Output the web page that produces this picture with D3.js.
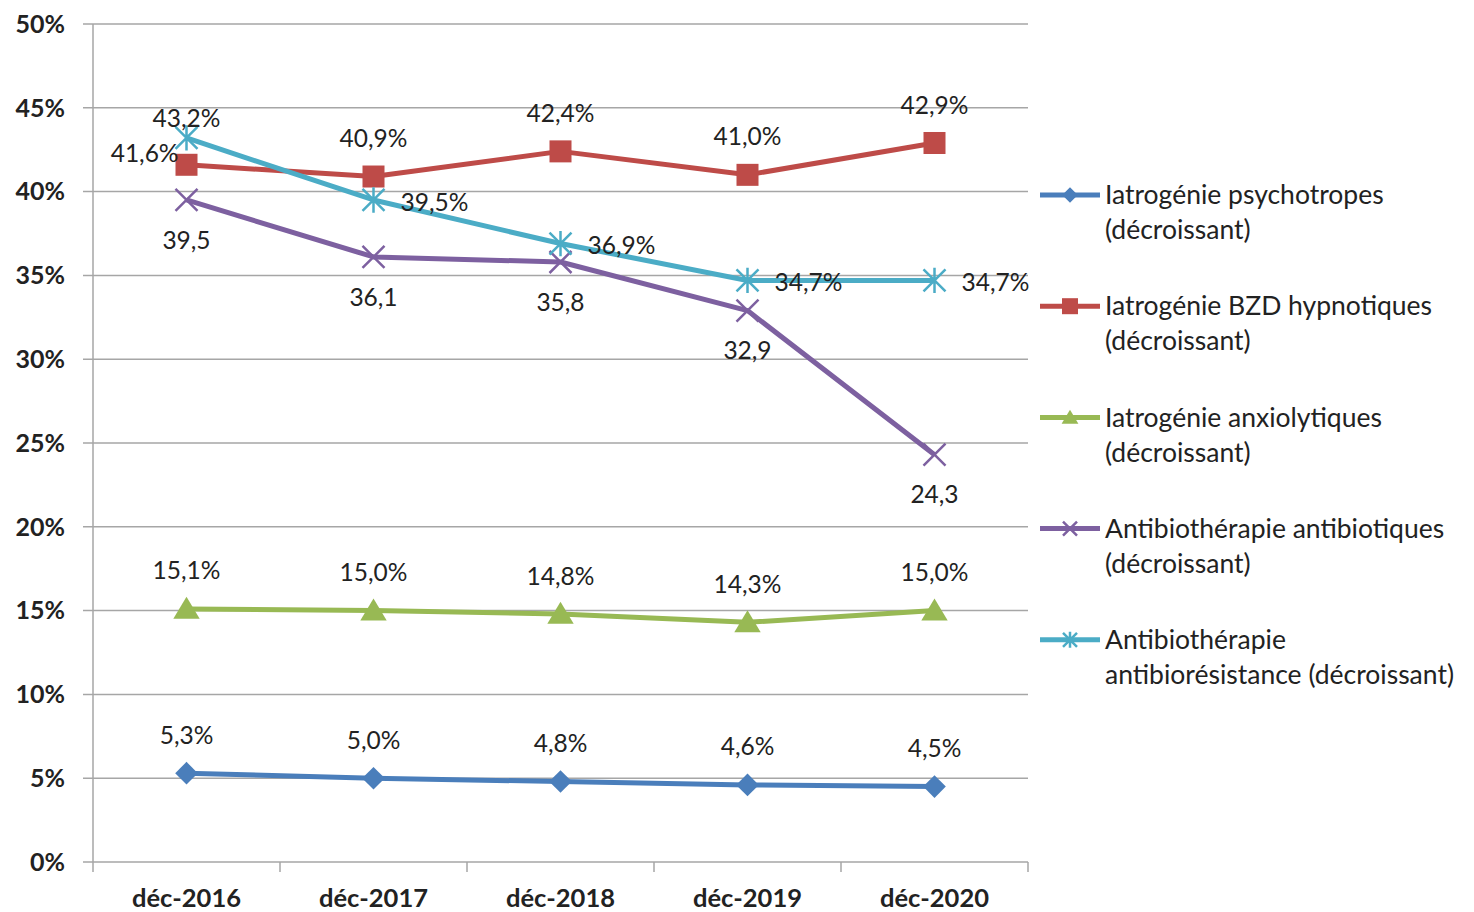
<!DOCTYPE html>
<html><head><meta charset="utf-8">
<script src="https://cdn.jsdelivr.net/npm/d3@7"></script>
<style>
html,body{margin:0;padding:0;background:#fff;}
svg{display:block;font-family:Lato,"Open Sans",sans-serif;}
</style></head>
<body>
<svg id="chart" width="1474" height="912"></svg>
<script>
const categories = ["déc-2016","déc-2017","déc-2018","déc-2019","déc-2020"];
const seriesNames = ["Iatrogénie psychotropes (décroissant)","Iatrogénie BZD hypnotiques (décroissant)","Iatrogénie anxiolytiques (décroissant)","Antibiothérapie antibiotiques (décroissant)","Antibiothérapie antibiorésistance (décroissant)"];
const legendLines = [["Iatrogénie psychotropes","(décroissant)"],["Iatrogénie BZD hypnotiques","(décroissant)"],["Iatrogénie anxiolytiques","(décroissant)"],["Antibiothérapie antibiotiques","(décroissant)"],["Antibiothérapie","antibiorésistance (décroissant)"]];
const psychotropes = [5.3,5.0,4.8,4.6,4.5];
const bzdHypnotiques = [41.6,40.9,42.4,41.0,42.9];
const anxiolytiques = [15.1,15.0,14.8,14.3,15.0];
const antibiotiques = [39.5,36.1,35.8,32.9,24.3];
const antibioresistance = [43.2,39.5,36.9,34.7,34.7];
const yTicks = [0,5,10,15,20,25,30,35,40,45,50];
const colors = ["#4a7ebb","#be4b48","#98b954","#7d60a0","#4bacc6"];
const markers = ["diamond","square","triangle","x","star"];
// label placement per point: "above","below","left","right","aboveNear"
const labelPos = [
  ["above","above","above","above","above"],
  ["left","above","above","above","above"],
  ["above","above","above","above","above"],
  ["below","below","below","below","below"],
  ["aboveNear","right","right","right","right"]
];
const withPercent = [true,true,true,false,true];
const allValues = [psychotropes,bzdHypnotiques,anxiolytiques,antibiotiques,antibioresistance];

const svg = d3.select("#chart");
const m = {left:93, right:1028, top:24, bottom:862};
const x = d3.scaleBand().domain(categories).range([m.left,m.right]);
const y = d3.scaleLinear().domain([0,50]).range([m.bottom,m.top]);

svg.append("g").selectAll("line").data(yTicks).join("line")
  .attr("x1",m.left-10).attr("x2",m.right)
  .attr("y1",d=>y(d)).attr("y2",d=>y(d))
  .attr("stroke","#a6a6a6").attr("stroke-width",1.5);
svg.append("line").attr("x1",m.left).attr("x2",m.left).attr("y1",m.top).attr("y2",m.bottom)
  .attr("stroke","#a6a6a6").attr("stroke-width",1.5);
const xt = categories.map((c)=>x(c)).concat([m.right]);
svg.append("g").selectAll("line").data(xt).join("line")
  .attr("x1",d=>d).attr("x2",d=>d).attr("y1",m.bottom).attr("y2",m.bottom+10)
  .attr("stroke","#a6a6a6").attr("stroke-width",1.5);
svg.append("g").selectAll("text").data(yTicks).join("text")
  .attr("x",65).attr("y",d=>y(d)).attr("dy","0.35em").attr("text-anchor","end")
  .attr("font-size",25).attr("font-weight","bold").attr("fill","#222")
  .text(d=>d+"%");
svg.append("g").selectAll("text").data(categories).join("text")
  .attr("x",d=>x(d)+x.bandwidth()/2).attr("y",898).attr("dy","0.35em").attr("text-anchor","middle")
  .attr("font-size",25.5).attr("font-weight","bold").attr("fill","#222")
  .text(d=>d);

const cx = c => x(c)+x.bandwidth()/2;

function drawMarker(g, type, color, s){
  if(type==="diamond"){
    g.append("path").attr("d",d3.symbol(d3.symbolSquare, s*s)()).attr("transform","rotate(45)").attr("fill",color);
  } else if(type==="square"){
    g.append("rect").attr("x",-s/2).attr("y",-s/2).attr("width",s).attr("height",s).attr("fill",color);
  } else if(type==="triangle"){
    const h=s;
    g.append("path").attr("d",`M0,${-h*0.55}L${s*0.6},${h*0.45}L${-s*0.6},${h*0.45}Z`).attr("fill",color);
  } else if(type==="x"){
    const r=s/2;
    g.append("path").attr("d",`M${-r},${-r}L${r},${r}M${-r},${r}L${r},${-r}`).attr("stroke",color).attr("stroke-width",2.5).attr("fill","none");
  } else if(type==="star"){
    const r=s/2;
    g.append("path").attr("d",`M${-r},${-r}L${r},${r}M${-r},${r}L${r},${-r}M0,${-r*1.15}L0,${r*1.15}`).attr("stroke",color).attr("stroke-width",2.5).attr("fill","none");
  }
}

const line = d3.line().x((d,i)=>cx(categories[i])).y(d=>y(d));
const fmt = v => v.toFixed(1).replace(".",",");

allValues.forEach((vals,si)=>{
  const g = svg.append("g");
  g.append("path").datum(vals).attr("d",line).attr("fill","none")
    .attr("stroke",colors[si]).attr("stroke-width",5).attr("stroke-linejoin","round");
  vals.forEach((v,i)=>{
    const mg = g.append("g").attr("transform",`translate(${cx(categories[i])},${y(v)})`);
    drawMarker(mg, markers[si], colors[si], markers[si]==="diamond"?16:22);
  });
});
allValues.forEach((vals,si)=>{
  vals.forEach((v,i)=>{
    const px=cx(categories[i]), py=y(v);
    const pos=labelPos[si][i];
    let tx=px, ty=py, anchor="middle";
    if(pos==="above"){ty=py-38;}
    else if(pos==="aboveNear"){ty=py-20;}
    else if(pos==="below"){ty=py+40;}
    else if(pos==="left"){tx=px-8;ty=py-11;anchor="end";}
    else if(pos==="right"){tx=px+27;ty=py+2;anchor="start";}
    svg.append("text").attr("x",tx).attr("y",ty).attr("dy","0.35em").attr("text-anchor",anchor)
      .attr("font-size",24.5).attr("fill","#222")
      .text(fmt(v)+(withPercent[si]?"%":""));
  });
});

const ly0=195, lstep=111.2;
legendLines.forEach((lines,si)=>{
  const gy = ly0+si*lstep;
  const g = svg.append("g");
  g.append("line").attr("x1",1040).attr("x2",1100).attr("y1",gy).attr("y2",gy)
    .attr("stroke",colors[si]).attr("stroke-width",5);
  const mg=g.append("g").attr("transform",`translate(1070,${gy})`);
  drawMarker(mg, markers[si], colors[si], markers[si]==="diamond"?11:(markers[si]==="square"?16:14));
  lines.forEach((t,li)=>{
    g.append("text").attr("x",1105).attr("y",gy+li*35).attr("dy","0.35em")
      .attr("font-size",26.5).attr("fill","#222").text(t);
  });
});
</script>
</body></html>
